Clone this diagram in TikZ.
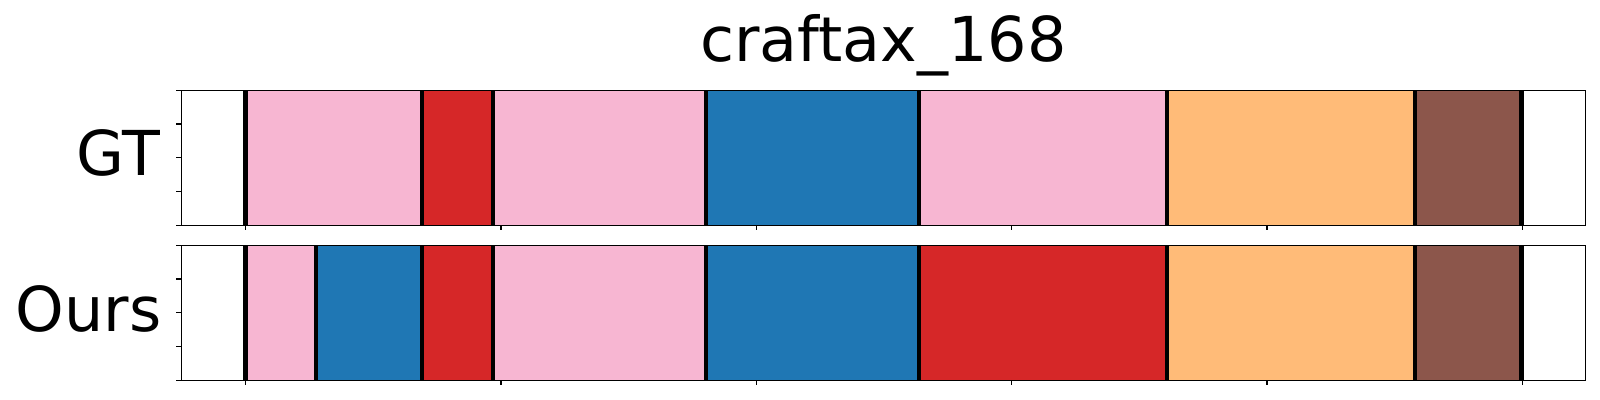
\documentclass[tikz,border=0pt]{standalone}
\usepackage{fontspec}
\setmainfont{DejaVu Sans}
\definecolor{segpink}{HTML}{F7B6D2}
\definecolor{segred}{HTML}{D62728}
\definecolor{segblue}{HTML}{1F77B4}
\definecolor{segorange}{HTML}{FFBB78}
\definecolor{segbrown}{HTML}{8C564B}
\tikzset{
  bound/.style={draw=black,line width=1.15pt},
  frame/.style={draw=black,line width=0.4pt},
  tick/.style={draw=black,line width=0.35pt},
  bigtext/.style={font=\fontsize{17.6}{21}\selectfont,inner sep=0pt}
}
\begin{document}
\begin{tikzpicture}[x=0.01cm,y=-0.01cm]
	\useasboundingbox (0,0) rectangle (1600,400);
	\node[bigtext,anchor=base] (title) at (883.5,61.7) {craftax\_168};
	\node[bigtext,anchor=base east] (gt) at (161,175) {GT};
	\node[bigtext,anchor=base east] (ours) at (162,331) {Ours};

	% GT row
	\fill[segpink] (245.5,90.3) rectangle (422,225.3);
	\fill[segred] (422,90.3) rectangle (493,225.3);
	\fill[segpink] (493,90.3) rectangle (706,225.3);
	\fill[segblue] (706,90.3) rectangle (919,225.3);
	\fill[segpink] (919,90.3) rectangle (1167,225.3);
	\fill[segorange] (1167,90.3) rectangle (1415.3,225.3);
	\fill[segbrown] (1415.3,90.3) rectangle (1521.5,225.3);
	\foreach \b in {245.5,422,493,706,919,1167,1415.3,1521.5}
		\draw[bound] (\b,90.3) -- (\b,225.3);
	\draw[frame] (181.3,90.3) rectangle (1585.7,225.3);

	% Ours row
	\fill[segpink] (245.5,245.3) rectangle (316,380.3);
	\fill[segblue] (316,245.3) rectangle (422,380.3);
	\fill[segred] (422,245.3) rectangle (493,380.3);
	\fill[segpink] (493,245.3) rectangle (706,380.3);
	\fill[segblue] (706,245.3) rectangle (919,380.3);
	\fill[segred] (919,245.3) rectangle (1167,380.3);
	\fill[segorange] (1167,245.3) rectangle (1415.3,380.3);
	\fill[segbrown] (1415.3,245.3) rectangle (1521.5,380.3);
	\foreach \b in {245.5,316,422,493,706,919,1167,1415.3,1521.5}
		\draw[bound] (\b,245.3) -- (\b,380.3);
	\draw[frame] (181.3,245.3) rectangle (1585.7,380.3);

	% ticks
	\foreach \x in {245.7,501,756.3,1011.6,1266.9,1522.2} {
		\draw[tick] (\x,225.3) -- (\x,230.3);
		\draw[tick] (\x,380.3) -- (\x,385.3);
	}
	\foreach \y in {90.3,124,157.8,191.5,225.3} {
		\draw[tick] (181.3,\y) -- (176.3,\y);
		\draw[tick] (181.3,\y+155) -- (176.3,\y+155);
	}
\end{tikzpicture}
\end{document}
